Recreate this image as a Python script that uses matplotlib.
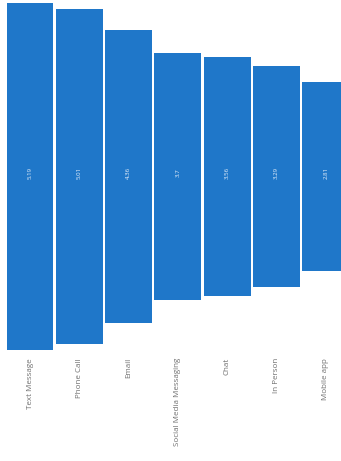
import matplotlib
matplotlib.use("Agg")
import matplotlib.pyplot as plt

categories = ["Text Message", "Phone Call", "Email", "Social Media Messaging",
              "Chat", "In Person", "Mobile app"]
values = [5.19, 5.01, 4.36, 3.7, 3.56, 3.29, 2.81]

blue = "#1f77c9"

fig = plt.figure(figsize=(3.41, 4.61), dpi=100)
ax = fig.add_axes([0, 0, 1, 1])

x = list(range(len(categories)))
bottoms = [-v / 2 for v in values]
ax.bar(x, values, bottom=bottoms, width=0.95, color=blue, edgecolor="none")

for i, v in enumerate(values):
    ax.text(i, 0.05, f"{v:g}", rotation=90, ha="center", va="center",
            fontsize=4.4, color="#e8f0fa", family="Open Sans")
    ax.text(i, -2.71, categories[i], rotation=90, ha="center", va="top",
            fontsize=5.8, color="#707070", family="Open Sans")

ax.set_xlim(-0.61, 6.31)
ax.set_ylim(-4.246, 2.634)
ax.axis("off")

fig.savefig("out.png", dpi=100)
plt.close(fig)
